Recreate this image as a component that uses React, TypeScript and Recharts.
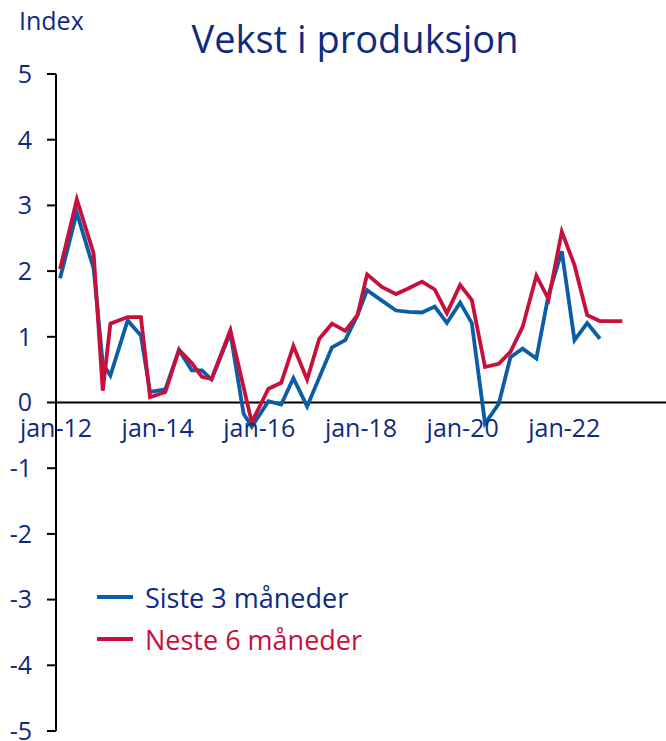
import React from 'react';
import { LineChart, Line, XAxis, YAxis, ReferenceLine, ReferenceDot } from 'recharts';

// survey dates as decimal years
const dates = [
  2012.08, 2012.41, 2012.74, 2012.92, 2013.07, 2013.41, 2013.67, 2013.85, 2014.15, 2014.42, 2014.67,
  2014.87, 2015.06, 2015.43, 2015.69, 2015.85, 2016.18, 2016.43, 2016.67, 2016.94, 2017.18, 2017.43,
  2017.69, 2017.93, 2018.12, 2018.41, 2018.69, 2018.94, 2019.2, 2019.45, 2019.69, 2019.95, 2020.18,
  2020.44, 2020.71, 2020.94, 2021.18, 2021.45, 2021.69, 2021.95, 2022.2, 2022.45, 2022.7, 2023.14,
];

const siste3: (number | null)[] = [
  1.89, 2.89, 2.04, 0.59, 0.41, 1.25, 1.02, 0.16, 0.2, 0.8, 0.49,
  0.49, 0.35, 1.06, -0.17, -0.37, 0.02, -0.03, 0.37, -0.06, null, 0.84,
  0.95, 1.33, 1.71, 1.55, 1.4, 1.38, 1.37, 1.46, 1.21, 1.52, 1.21,
  -0.32, -0.02, 0.69, 0.82, 0.67, 1.64, 2.3, 0.95, 1.21, 0.97, null,
];

const neste6: (number | null)[] = [
  2.03, 3.09, 2.27, 0.18, 1.2, 1.3, 1.3, 0.08, 0.16, 0.8, 0.6,
  0.39, 0.36, 1.1, null, -0.3, 0.21, 0.3, 0.86, 0.35, 0.97, 1.2,
  1.09, 1.33, 1.95, 1.76, 1.65, 1.74, 1.84, 1.72, 1.36, 1.79, 1.56,
  0.54, 0.59, 0.77, 1.15, 1.93, 1.57, 2.6, 2.09, 1.33, 1.24, 1.24,
];

const xTicks = [2012, 2014, 2016, 2018, 2020, 2022];
const xTickLabels = ['jan-12', 'jan-14', 'jan-16', 'jan-18', 'jan-20', 'jan-22'];
const yTicks = [-5, -4, -3, -2, -1, 0, 1, 2, 3, 4, 5];

const NAVY = '#0f2a80';
const BLUE = '#0b5ea6';
const RED = '#c8103c';
const FONT = '"Open Sans", Lato, sans-serif';

const data = dates.map((d, i) => ({ date: d, siste: siste3[i], neste: neste6[i] }));

const legendItems = [
  { name: 'Siste 3 måneder', color: BLUE, text: NAVY },
  { name: 'Neste 6 måneder', color: RED, text: RED },
];

export default function App() {
  return (
    <div style={{ position: 'relative', width: 666, height: 741, background: '#fff', fontFamily: FONT }}>
      <style>{'body{margin:0}'}</style>
      <div style={{ position: 'absolute', left: 19, top: 3, fontSize: 25, color: NAVY }}>Index</div>
      <div style={{ position: 'absolute', left: 0, width: 710, top: 12, textAlign: 'center', fontSize: 38, color: NAVY }}>
        Vekst i produksjon
      </div>
      <LineChart width={666} height={741} data={data} margin={{ top: 74, right: 0, bottom: 10, left: 0 }}>
        <XAxis dataKey="date" type="number" domain={[2012, 2024]} hide height={0} />
        <YAxis
          domain={[-5, 5]}
          ticks={yTicks}
          interval={0}
          width={56}
          axisLine={{ stroke: '#000', strokeWidth: 2 }}
          tickLine={{ stroke: '#000', strokeWidth: 2 }}
          tickSize={9}
          tickMargin={15}
          tick={{ fill: NAVY, fontSize: 25, fontFamily: FONT }}
        />
        <ReferenceLine y={0} stroke="#000" strokeWidth={2} />
        {xTicks.map((t, i) => (
          <ReferenceDot
            key={t}
            x={t}
            y={0}
            r={0}
            fill="none"
            stroke="none"
            label={{ value: xTickLabels[i], position: 'bottom', offset: 17, fill: NAVY, fontSize: 25, fontFamily: FONT }}
          />
        ))}
        <Line
          dataKey="siste"
          name="Siste 3 måneder"
          stroke={BLUE}
          strokeWidth={3.8}
          dot={false}
          connectNulls
          isAnimationActive={false}
        />
        <Line
          dataKey="neste"
          name="Neste 6 måneder"
          stroke={RED}
          strokeWidth={3.8}
          dot={false}
          connectNulls
          isAnimationActive={false}
        />
      </LineChart>
      <div style={{ position: 'absolute', left: 97, top: 576 }}>
        {legendItems.map((it) => (
          <div key={it.name} style={{ display: 'flex', alignItems: 'center', height: 42 }}>
            <div style={{ width: 36, height: 4, background: it.color, marginRight: 12 }} />
            <span style={{ fontSize: 27, color: it.text }}>{it.name}</span>
          </div>
        ))}
      </div>
    </div>
  );
}
